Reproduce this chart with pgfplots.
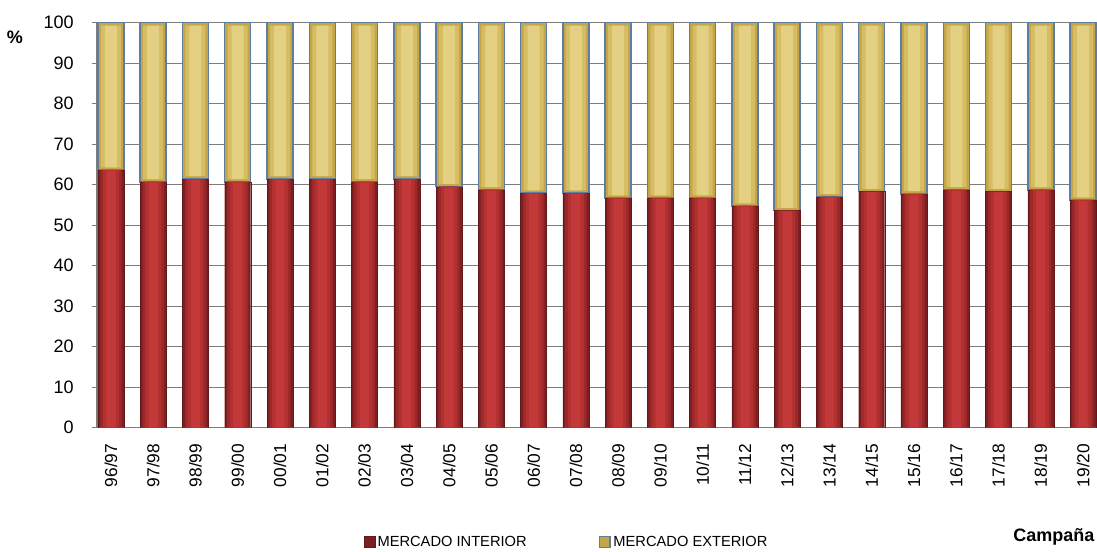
\documentclass[border=0pt]{standalone}
\usepackage{pgfplots}
\usepackage{pgfplotstable}
\pgfplotsset{compat=1.18}
\usepackage{fontspec}
\setmainfont{Liberation Sans}
\definecolor{redA}{RGB}{125,30,33}
\definecolor{redB}{RGB}{155,40,42}
\definecolor{redC}{RGB}{178,48,48}
\definecolor{redD}{RGB}{195,56,56}
\definecolor{yelA}{RGB}{196,166,72}
\definecolor{yelB}{RGB}{214,189,100}
\definecolor{yelC}{RGB}{228,208,130}
\definecolor{bordB}{RGB}{95,125,160}
\definecolor{gridG}{RGB}{125,125,125}
\pgfplotstableread{
x int ext
0 63.6 36.4
1 60.7 39.3
2 61.4 38.6
3 60.7 39.3
4 61.4 38.6
5 61.4 38.6
6 60.7 39.3
7 61.4 38.6
8 59.5 40.5
9 58.7 41.3
10 57.9 42.1
11 57.9 42.1
12 56.7 43.3
13 56.7 43.3
14 56.7 43.3
15 54.7 45.3
16 53.6 46.4
17 57.0 43.0
18 58.3 41.7
19 57.7 42.3
20 58.7 41.3
21 58.3 41.7
22 58.7 41.3
23 56.2 43.8
}\datatable
\pgfplotsset{
  base/.style={
    at={(72.75pt,93.2pt)}, anchor=south west,
    scale only axis, width=750pt, height=303.75pt,
    ybar stacked,
    xmin=-0.33, xmax=23.33, ymin=0, ymax=100,
  },
  overlay/.style={base, hide axis},
}
\begin{document}
\begin{tikzpicture}
\useasboundingbox (0,0) rectangle (822.75pt,414pt);
\begin{axis}[
  base, bar width=19.5pt,
  xtick={0,...,23},
  xticklabels={96/97,97/98,98/99,99/00,00/01,01/02,02/03,03/04,04/05,05/06,06/07,07/08,08/09,09/10,10/11,11/12,12/13,13/14,14/15,15/16,16/17,17/18,18/19,19/20},
  ytick={0,10,...,100},
  axis x line*=bottom, axis y line*=left,
  axis line style={gridG, line width=1.1pt},
  ymajorgrids, grid style={gridG, line width=1pt},
  xtick style={draw=none},
  ytick style={gridG, line width=1pt},
  tick align=outside, major tick length=4pt,
  /pgf/number format/assume math mode=true,
  tick label style={font=\fontsize{13.5}{15}\selectfont},
  xticklabel style={rotate=90, anchor=east, xshift=-4.5pt, font=\fontsize{13}{15}\selectfont},
  yticklabel style={xshift=-10pt},
  legend style={at={(0.47,-0.282)}, anchor=center, draw=none, fill=none,
    legend columns=2, font=\fontsize{11}{13}\selectfont,
    /tikz/every even column/.append style={column sep=52pt}},
  legend image code/.code={\draw[#1] (0pt,-4pt) rectangle (8pt,4pt);},
]
\addplot[draw=redA!80!black, line width=0.3pt, fill=redA] table[x=x, y=int] {\datatable};
\addplot[draw=bordB, line width=1.1pt, fill=yelA] table[x=x, y=ext] {\datatable};
\legend{MERCADO INTERIOR, MERCADO EXTERIOR}
\end{axis}
% gradient strips, layer 1
\begin{axis}[overlay]
\addplot[draw=none, fill=redB, bar width=16pt] table[x=x, y=int] {\datatable};
\addplot[draw=none, fill=none, bar width=16pt] table[x=x, y expr=0.7] {\datatable};
\addplot[draw=none, fill=yelB, bar width=15pt] table[x=x, y expr=\thisrow{ext}-1.4] {\datatable};
\end{axis}
% layer 2
\begin{axis}[overlay]
\addplot[draw=none, fill=redC, bar width=12pt] table[x=x, y=int] {\datatable};
\addplot[draw=none, fill=none, bar width=12pt] table[x=x, y expr=0.7] {\datatable};
\addplot[draw=none, fill=yelC, bar width=9pt] table[x=x, y expr=\thisrow{ext}-1.4] {\datatable};
\end{axis}
% layer 3
\begin{axis}[overlay]
\addplot[draw=none, fill=redD, bar width=7pt] table[x=x, y expr=\thisrow{int}-0.2] {\datatable};
\end{axis}
\node[font=\fontsize{13.5}{15}\selectfont\bfseries] at (11.25pt,386.25pt) {\%};
\node[font=\fontsize{13.5}{15}\selectfont\bfseries, anchor=east, inner sep=0pt] at (821pt,11.25pt) {Campaña};
\end{tikzpicture}
\end{document}
